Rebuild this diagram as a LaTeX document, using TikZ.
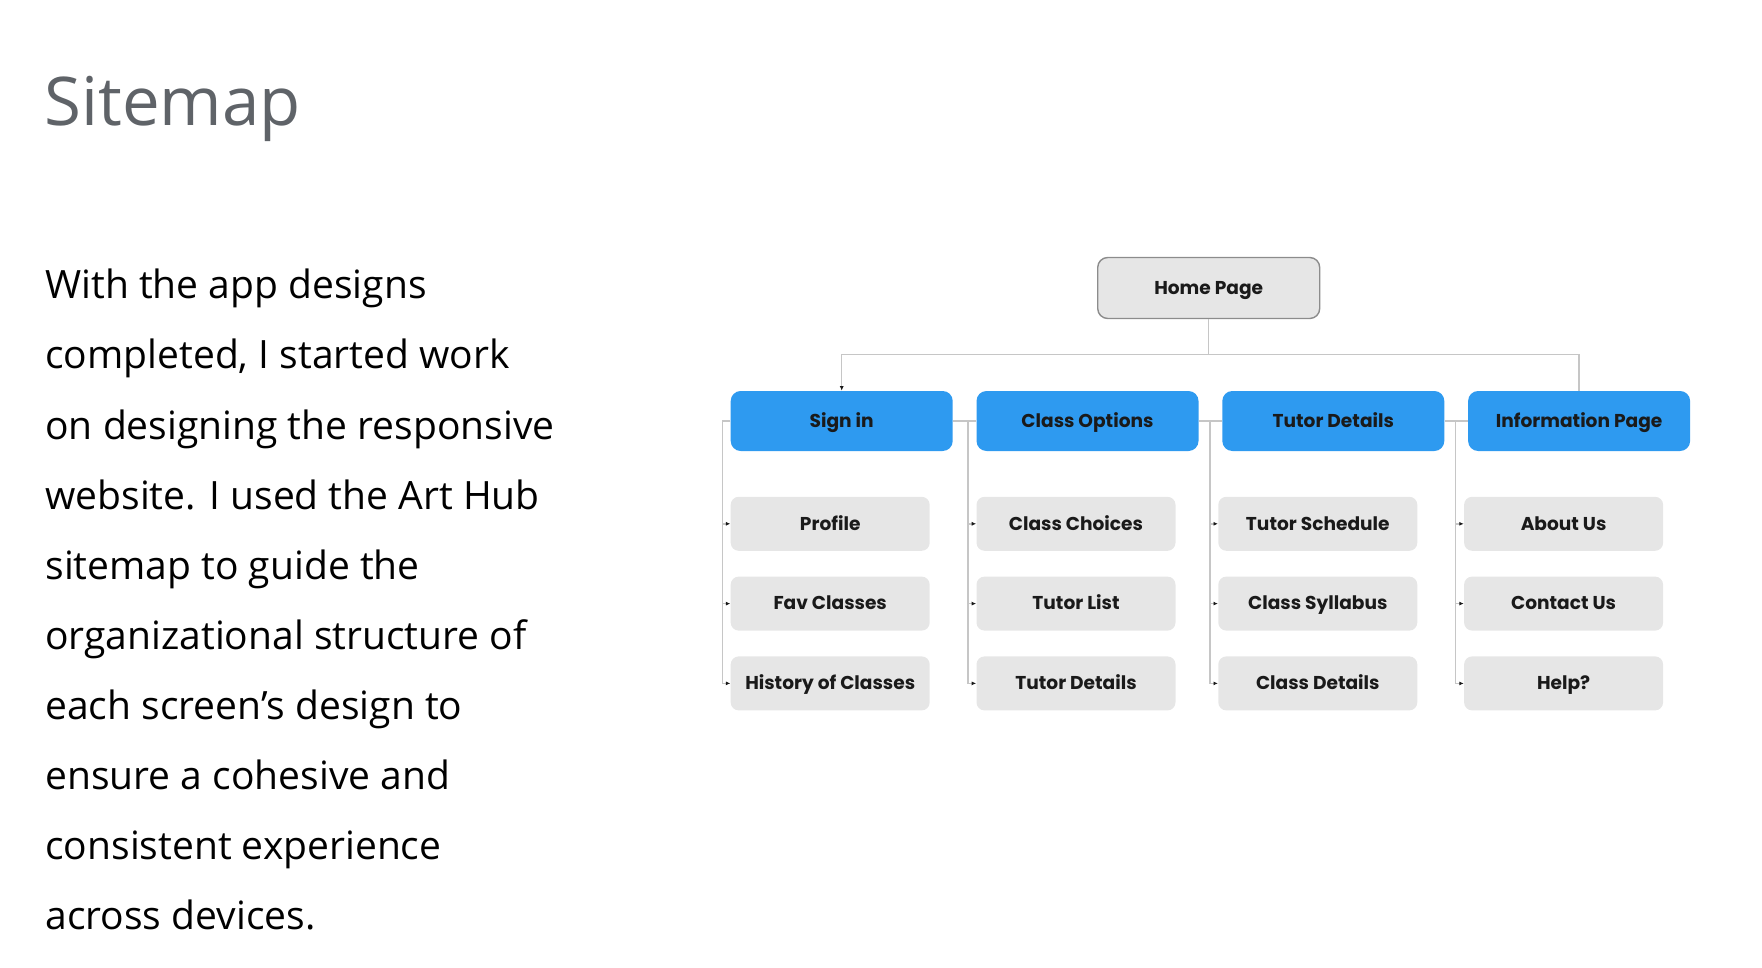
\documentclass[tikz,border=0pt]{standalone}
\usepackage{fontspec}
\usepackage{xcolor}
\usepackage{tikz}
\usetikzlibrary{arrows.meta,positioning}
\newfontfamily\bodyfont{Open Sans}
\newfontfamily\boxfont{Poppins}
\definecolor{cielo}{RGB}{46,154,240}
\definecolor{grisbox}{RGB}{230,230,230}
\definecolor{grislinea}{RGB}{198,198,198}
\definecolor{grisborde}{RGB}{140,140,140}
\definecolor{gristitulo}{RGB}{95,99,104}
\definecolor{tinta}{RGB}{26,26,26}

\begin{document}
\begin{tikzpicture}[x=0.5pt,y=-0.5pt,
homebox/.style={draw=grisborde,line width=0.7pt,rounded corners=5pt,fill=grisbox,minimum width=111pt,minimum height=30.5pt,text height=7pt,text depth=0.8pt,text=tinta,font=\boxfont\bfseries\fontsize{9.3}{11}\selectfont},
sectionbox/.style={rounded corners=5pt,fill=cielo,minimum width=111pt,minimum height=30pt,text height=7pt,text depth=0.8pt,text=tinta,font=\boxfont\bfseries\fontsize{9.3}{11}\selectfont},
pagebox/.style={rounded corners=4pt,fill=grisbox,minimum width=99.5pt,minimum height=27pt,text height=7pt,text depth=0.8pt,text=tinta,font=\boxfont\bfseries\fontsize{9.3}{11}\selectfont},
link/.style={draw=grislinea,line width=0.7pt},
tip/.style={-{Latex[length=2.2pt,width=2pt,color=tinta]}},
headline/.style={text=gristitulo,inner sep=0pt,font=\bodyfont\fontsize{33.6}{40}\selectfont},
blurb/.style={text=black,inner sep=0pt,font=\bodyfont\fontsize{19.5}{24}\selectfont}
]
\useasboundingbox (0,0) rectangle (1762,968);

\node[headline,anchor=base west] (title) at (44,126) {Sitemap};

\node[blurb,anchor=base west] (line1) at (45,299) {With the app designs};
\node[blurb,anchor=base west] (line2) at (45,369) {completed, I started work};
\node[blurb,anchor=base west] (line3) at (45,439) {on designing the responsive};
\node[blurb,anchor=base west] (line4) at (45,509) {website. I used the Art Hub};
\node[blurb,anchor=base west] (line5) at (45,579) {sitemap to guide the};
\node[blurb,anchor=base west] (line6) at (45,649) {organizational structure of};
\node[blurb,anchor=base west] (line7) at (45,719) {each screen’s design to};
\node[blurb,anchor=base west] (line8) at (45,789) {ensure a cohesive and};
\node[blurb,anchor=base west] (line9) at (45,859) {consistent experience};
\node[blurb,anchor=base west] (line10) at (45,929) {across devices.};

\node[homebox] (home) at (1208.7,288) {Home Page};

\node[sectionbox] (signin) at (841.7,421) {Sign in};
\node[sectionbox,right=11.5pt of signin] (classopt) {Class Options};
\node[sectionbox,right=11.5pt of classopt] (tutordet) {Tutor Details};
\node[sectionbox,right=11.5pt of tutordet] (infopage) {Information Page};

\node[pagebox,below=22.5pt of signin.south west,anchor=north west] (signin1) {Profile};
\node[pagebox,below=12.5pt of signin1] (signin2) {Fav Classes};
\node[pagebox,below=12.5pt of signin2] (signin3) {History of Classes};

\node[pagebox,below=22.5pt of classopt.south west,anchor=north west] (classopt1) {Class Choices};
\node[pagebox,below=12.5pt of classopt1] (classopt2) {Tutor List};
\node[pagebox,below=12.5pt of classopt2] (classopt3) {Tutor Details};

\node[pagebox,below=22.5pt of tutordet.south west,anchor=north west,xshift=-2pt] (tutordet1) {Tutor Schedule};
\node[pagebox,below=12.5pt of tutordet1] (tutordet2) {Class Syllabus};
\node[pagebox,below=12.5pt of tutordet2] (tutordet3) {Class Details};

\node[pagebox,below=22.5pt of infopage.south west,anchor=north west,xshift=-2pt] (infopage1) {About Us};
\node[pagebox,below=12.5pt of infopage1] (infopage2) {Contact Us};
\node[pagebox,below=12.5pt of infopage2] (infopage3) {Help?};

\draw[link,tip] (home.south) -- ++(0,35.3) -| (signin.north);
\draw[link] (home.south) -- ++(0,35.3) -| (infopage.north);

\draw[link] (signin.east) -- (classopt.west);
\draw[link] (classopt.east) -- (tutordet.west);
\draw[link] (tutordet.east) -- (infopage.west);

\draw[link,tip] (signin.west) -| ([xshift=-4pt]signin1.west) -- (signin1.west);
\draw[link,tip] (signin.west) -| ([xshift=-4pt]signin2.west) -- (signin2.west);
\draw[link,tip] (signin.west) -| ([xshift=-4pt]signin3.west) -- (signin3.west);
\draw[link,tip] (classopt.west) -| ([xshift=-4pt]classopt1.west) -- (classopt1.west);
\draw[link,tip] (classopt.west) -| ([xshift=-4pt]classopt2.west) -- (classopt2.west);
\draw[link,tip] (classopt.west) -| ([xshift=-4pt]classopt3.west) -- (classopt3.west);
\draw[link,tip] (tutordet.west) -| ([xshift=-4pt]tutordet1.west) -- (tutordet1.west);
\draw[link,tip] (tutordet.west) -| ([xshift=-4pt]tutordet2.west) -- (tutordet2.west);
\draw[link,tip] (tutordet.west) -| ([xshift=-4pt]tutordet3.west) -- (tutordet3.west);
\draw[link,tip] (infopage.west) -| ([xshift=-4pt]infopage1.west) -- (infopage1.west);
\draw[link,tip] (infopage.west) -| ([xshift=-4pt]infopage2.west) -- (infopage2.west);
\draw[link,tip] (infopage.west) -| ([xshift=-4pt]infopage3.west) -- (infopage3.west);
\end{tikzpicture}
\end{document}
